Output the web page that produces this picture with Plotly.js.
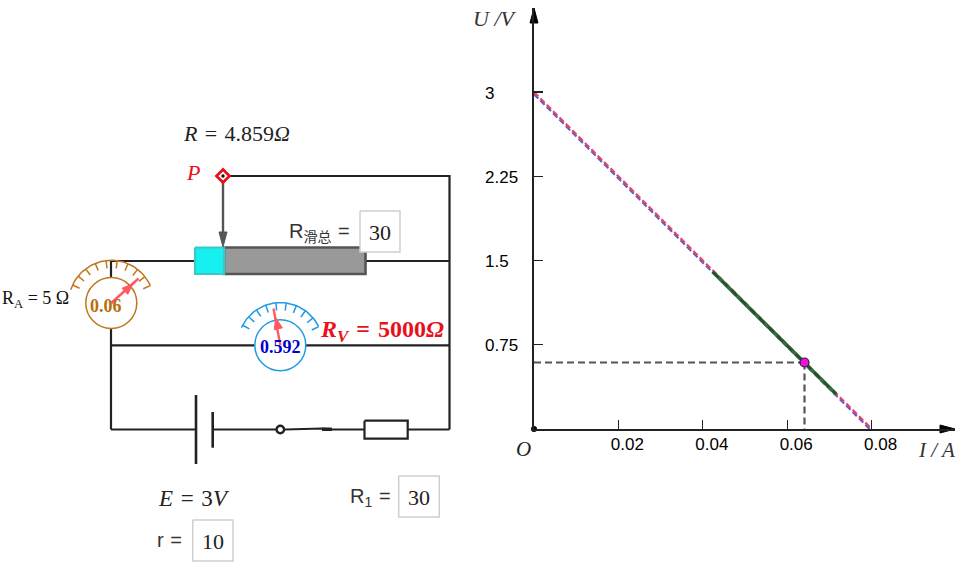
<!DOCTYPE html>
<html><head><meta charset="utf-8">
<style>html,body{margin:0;padding:0;background:#fff}#c{width:960px;height:567px}</style>
<script src="https://cdn.plot.ly/plotly-3.0.1.min.js"></script></head>
<body><div id="c"></div>
<script>
// ---- U-I graph values ----
const currentTicks=[0.02,0.04,0.06,0.08];
const currentLabels=['0.02','0.04','0.06','0.08'];
const voltageTicks=[0.75,1.5,2.25,3];
const voltageLabels=['0.75','1.5','2.25','3'];
const loadLineI=[0,0.0798];
const loadLineU=[2.99,0];
const rangeI=[0.04235,0.07156];
const rangeU=[1.40,0.3116];
const opI=0.0641;
const opU=0.592;
// ---- circuit diagram (page units) ----
const wires=[
 [[223,449.5,449.5],[176,176,429.5]],
 [[111,195],[261,261]],
 [[366,449.5],[261,261]],
 [[111,111],[261,429.5]],
 [[111,449.5],[345.3,345.3]],
 [[111,196],[429.5,429.5]],
 [[213,276],[429.5,429.5]],
 [[285,322,332],[429.5,428.5,429]],
 [[322,365],[429.5,429.5]],
 [[408,449.5],[429.5,429.5]]
];
const batteryLong=[[196,196],[395,464]];
const batteryShort=[[212.7,212.7],[412,447.7]];
const switchPivot=[280.3,429.5];
const resistorBox=[364.5,407.7,420.7,438.7];
const sliderUsed=[195,224,247.5,274];
const sliderRest=[224,365.5,247.5,274];
const inputBoxes=[[360,400,211,252],[398.7,439.3,476,517],[192.7,233,520,561]];
const contact=[223,176];
const contactStem=[[223,223],[176,233]];
const contactHead=[[219,227,223,219],[232,232,247,232]];
const ammeter={cx:111.3,cy:303,tip:[138.5,278.5],head:[130,286.5]};
const voltmeter={cx:280.3,cy:345.3,tip:[273.5,308.5],head:[276.7,322]};
const ammeterTickDeg=[-65,-51,-37,-22,-7,8,23,38,52,66];
const voltmeterTickDeg=[-62,-48,-34,-20,-6,8,22,36,50,64];
const dialEndsA=[-72,67.5];
const dialEndsV=[-65.5,64];
const xArrow=[[940,955,940,940],[425,429,433,425]];
const yArrow=[[530,534,538,530],[23,8,23,23]];

const traces=[];
const dark='#222222';
function line(xs,ys,color,width,extra){
  traces.push(Object.assign({type:'scatter',mode:'lines',x:xs,y:ys,xaxis:'x',yaxis:'y',
    line:{color:color,width:width},hoverinfo:'skip',showlegend:false},extra||{}));
}
function poly(xs,ys,fill,color,width){
  traces.push({type:'scatter',mode:'lines',x:xs,y:ys,fill:'toself',fillcolor:fill,xaxis:'x',yaxis:'y',
    line:{color:color,width:width},hoverinfo:'skip',showlegend:false});
}
function rect(b,fill,color,width){
  poly([b[0],b[1],b[1],b[0],b[0]],[b[2],b[2],b[3],b[3],b[2]],fill,color,width);
}
function dial(d,ends,ticks,color){
  const R=42.7,r=35;
  const ax=[],ay=[];
  for(let a=ends[0];a<=ends[1];a+=3){
    ax.push(d.cx+R*Math.sin(a*Math.PI/180));ay.push(d.cy-R*Math.cos(a*Math.PI/180));
  }
  line(ax,ay,color,1.5);
  ticks.forEach(a=>{
    const s=Math.sin(a*Math.PI/180),c=Math.cos(a*Math.PI/180);
    line([d.cx+r*s,d.cx+R*s],[d.cy-r*c,d.cy-R*c],color,1.5);
  });
  traces.push({type:'scatter',mode:'markers',x:[d.cx],y:[d.cy],xaxis:'x',yaxis:'y',hoverinfo:'skip',showlegend:false,
    marker:{symbol:'circle',size:51,color:'#fff',line:{color:color,width:1.5}}});
}
function needle(d){
  const col='#ff5a5f';
  line([d.cx,d.tip[0]],[d.cy,d.tip[1]],col,2.4);
  const dx=d.tip[0]-d.head[0],dy=d.tip[1]-d.head[1],n=Math.hypot(dx,dy),ux=dx/n,uy=dy/n;
  const hl=7,hw=4.2;
  poly([d.head[0]-ux*hl-uy*hw,d.head[0]+ux*hl*0.6,d.head[0]-ux*hl+uy*hw,d.head[0]-ux*hl-uy*hw],
       [d.head[1]-uy*hl+ux*hw,d.head[1]+uy*hl*0.6,d.head[1]-uy*hl-ux*hw,d.head[1]-uy*hl+ux*hw],col,col,1);
}
wires.forEach(w=>line(w[0],w[1],dark,2.2));
line([322,332],[429.3,429.3],dark,3.4);
line(batteryLong[0],batteryLong[1],dark,2.6);
line(batteryShort[0],batteryShort[1],dark,2.6);
traces.push({type:'scatter',mode:'markers',x:[switchPivot[0]],y:[switchPivot[1]],xaxis:'x',yaxis:'y',hoverinfo:'skip',showlegend:false,
  marker:{symbol:'circle',size:7.5,color:'#fff',line:{color:dark,width:2.4}}});
rect(resistorBox,'#fff',dark,2.2);
rect(sliderRest,'#999999','#555555',2.6);
rect(sliderUsed,'#17f0f0','#3cc8c8',2.2);
line(contactStem[0],contactStem[1],'#555555',2.4);
poly(contactHead[0],contactHead[1],'#555555','#555555',1);
traces.push({type:'scatter',mode:'markers',x:[contact[0]],y:[contact[1]],xaxis:'x',yaxis:'y',hoverinfo:'skip',showlegend:false,
  marker:{symbol:'diamond',size:10,color:'#fff',line:{color:'#e8101a',width:2.8}}});
traces.push({type:'scatter',mode:'markers',x:[contact[0]],y:[contact[1]],xaxis:'x',yaxis:'y',hoverinfo:'skip',showlegend:false,
  marker:{symbol:'circle',size:3.4,color:'#111'}});
inputBoxes.forEach(b=>rect(b,'#fff','#cfcfcf',1.5));
dial(ammeter,dialEndsA,ammeterTickDeg,'#c0761c');
dial(voltmeter,dialEndsV,voltmeterTickDeg,'#1f9be6');
needle(ammeter);needle(voltmeter);
poly(xArrow[0],xArrow[1],'#000','#000',1);
poly(yArrow[0],yArrow[1],'#000','#000',1);

// graph traces
function g(o){traces.push(Object.assign({type:'scatter',xaxis:'x2',yaxis:'y2',hoverinfo:'skip',showlegend:false,cliponaxis:false},o));}
g({mode:'lines',x:loadLineI,y:loadLineU.map(v=>v-0.009),line:{color:'#5a5ae0',width:2.2,dash:'6px,3px'}});
g({mode:'lines',x:loadLineI,y:loadLineU.map(v=>v+0.009),line:{color:'#e8455a',width:2.2,dash:'6px,3px'}});
g({mode:'lines',x:rangeI,y:rangeU,line:{color:'#2f7038',width:3.8}});
g({mode:'lines',x:rangeI,y:rangeU,line:{color:'#2a4a2a',width:2,dash:'8px,5px'}});
g({mode:'lines',x:[0,opI],y:[opU,opU],line:{color:'#555555',width:2.2,dash:'7px,4px'}});
g({mode:'lines',x:[opI,opI],y:[opU,0],line:{color:'#555555',width:2.2,dash:'7px,4px'}});
g({mode:'markers',x:[opI],y:[opU],marker:{symbol:'circle',size:9,color:'#f010e0',line:{color:'#222',width:1.2}}});
g({mode:'markers',x:[0],y:[0],marker:{symbol:'circle',size:6,color:'#000'}});

const serif='"Liberation Serif",serif', sans='"Liberation Sans","Noto Sans CJK SC",sans-serif';
const sp='\u2004';
function T(x,y,text,size,color,family,anchor){
  return {xref:'x',yref:'y',x:x,y:y,text:text,showarrow:false,xanchor:anchor||'left',yanchor:'middle',
    font:{size:size,color:color||'#222',family:family||serif},align:'left',borderpad:0};
}
const annotations=[
 T(182,133,'<i>R</i>'+sp+'='+sp+'4.859<i>Ω</i>',22),
 T(185,172,'<i>P</i>',22,'#e8101a'),
 T(288,232,'R<sub>滑总</sub>'+sp+'=',20,'#333',sans),
 T(380,232,'30',22,'#222',serif,'center'),
 T(1,299,'R<sub>A</sub> = 5 Ω',18,'#111'),
 T(105.5,306,'<b>0.06</b>',18,'#b86e0f',serif,'center'),
 T(280.7,347,'<b>0.592</b>',18,'#0000cc',serif,'center'),
 T(319,331,'<b><i>R<sub>V</sub></i>'+sp+'='+sp+'5000<i>Ω</i></b>',24,'#e8101a'),
 T(157,498,'<i>E</i>'+sp+'='+sp+'3<i>V</i>',23),
 T(349,497,'R<sub>1</sub>'+sp+'=',20,'#333',sans),
 T(419,497,'30',22,'#222',serif,'center'),
 T(156,540,'r'+sp+'=',20,'#333',sans),
 T(213,541,'10',22,'#222',serif,'center'),
 T(472,18,'<i>U /V</i>',22,'#333'),
 T(917,450,'<i>I / A</i>',21,'#333'),
 T(515,449,'<i>O</i>',21,'#222')
];
voltageTicks.forEach((v,i)=>{
  annotations.push({xref:'x',yref:'y2',x:483.5,y:v,yshift:-1,text:voltageLabels[i],showarrow:false,xanchor:'left',yanchor:'middle',
    font:{size:17,color:'#000',family:sans},borderpad:0});
});
const W=960,H=567;
const layout={
  width:W,height:H,margin:{l:0,r:0,t:0,b:0},paper_bgcolor:'#fff',plot_bgcolor:'rgba(0,0,0,0)',showlegend:false,
  xaxis:{domain:[0,1],range:[0,W],visible:false,fixedrange:true},
  yaxis:{domain:[0,1],range:[H,0],visible:false,fixedrange:true},
  xaxis2:{domain:[534/W,955/W],range:[0,421/4220],anchor:'y2',showgrid:false,zeroline:false,showline:true,linecolor:'#222',linewidth:1.8,
    ticks:'inside',ticklen:9,tickwidth:1.4,tickcolor:'#222',tickmode:'array',tickvals:currentTicks,ticktext:currentLabels,
    ticklabelshift:9,ticklabelstandoff:-1,tickfont:{size:17,color:'#000',family:sans},fixedrange:true},
  yaxis2:{domain:[(H-429)/H,(H-8)/H],range:[0,421/112.33],anchor:'x2',showgrid:false,zeroline:false,showline:true,linecolor:'#222',linewidth:1.8,
    ticks:'inside',ticklen:9,tickwidth:1.4,tickcolor:'#222',tickmode:'array',tickvals:voltageTicks,ticktext:voltageLabels,
    showticklabels:false,fixedrange:true},
  annotations:annotations
};
Plotly.newPlot('c',traces,layout,{staticPlot:true,displayModeBar:false});
</script></body></html>
